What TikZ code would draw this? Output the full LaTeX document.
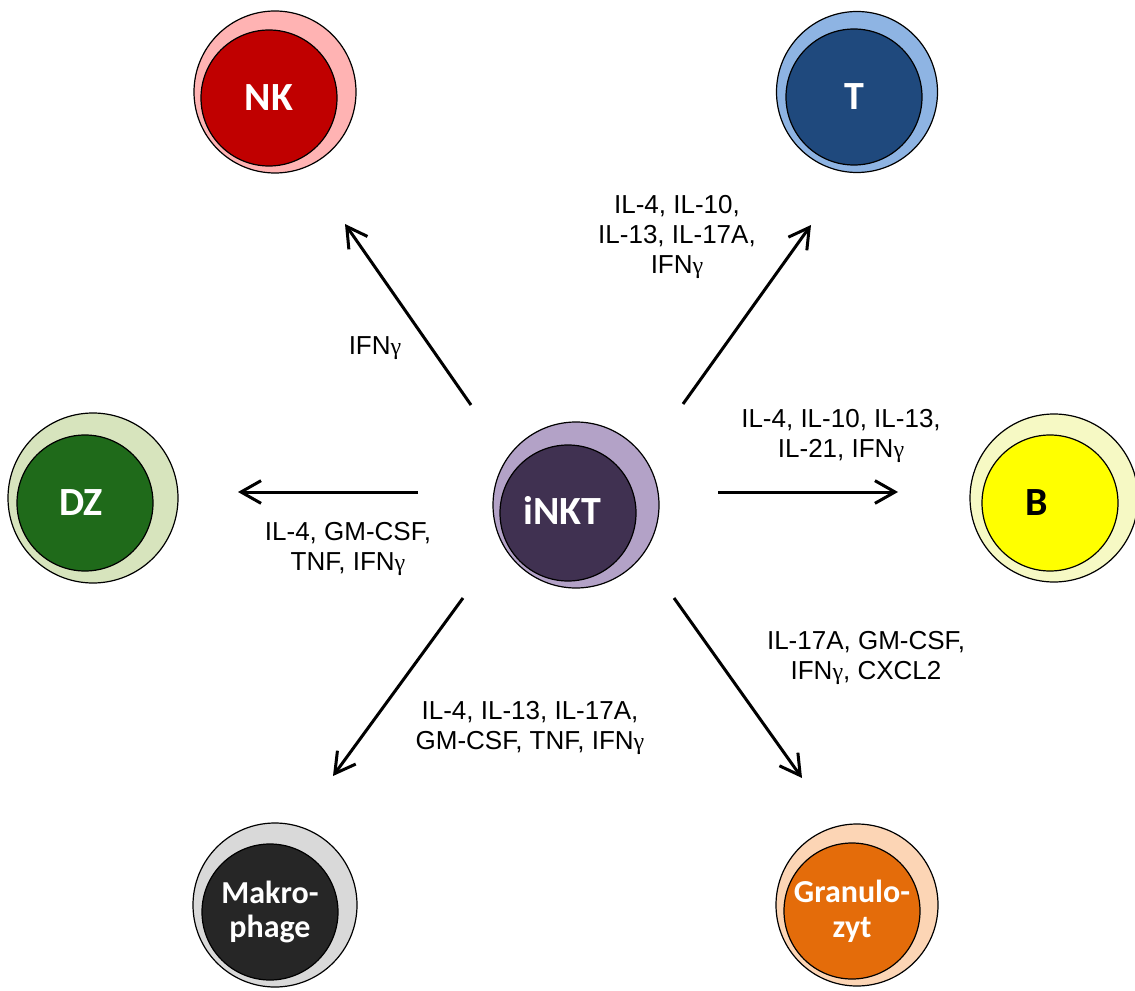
\documentclass[tikz,border=0pt]{standalone}
\usepackage{fontspec}
\setmainfont{Liberation Sans}
\newfontfamily\cellfont{Carlito}
\newfontfamily\gfont{Liberation Serif}
\newcommand\gam{{\gfont\fontsize{18}{20}\selectfont γ}}
\usetikzlibrary{arrows.meta}
\definecolor{nkO}{HTML}{FFB3B3}\definecolor{nkI}{HTML}{C00000}
\definecolor{tO}{HTML}{8EB4E3}\definecolor{tI}{HTML}{1F497D}
\definecolor{dzO}{HTML}{D7E4BD}\definecolor{dzI}{HTML}{1F6A1A}
\definecolor{bO}{HTML}{F6F9C4}\definecolor{bI}{HTML}{FFFF00}
\definecolor{iO}{HTML}{B3A2C7}\definecolor{iI}{HTML}{403151}
\definecolor{mO}{HTML}{D9D9D9}\definecolor{mI}{HTML}{262626}
\definecolor{gO}{HTML}{FCD5B5}\definecolor{gI}{HTML}{E46C0A}
\tikzset{
  outercell/.style={circle,draw=black,line width=0.9pt,minimum size=#1,inner sep=0pt},
  innercell/.style={circle,draw=black,line width=0.9pt,minimum size=136*0.75pt,inner sep=0pt,
     font=\cellfont\bfseries\fontsize{30}{32}\selectfont,text=white,align=center},
  smallcell/.style={font=\cellfont\bfseries\fontsize{24}{26}\selectfont},
  cyto/.style={font=\fontsize{19.5}{22.5}\selectfont,align=center},
  flow/.style={line width=2.25pt,-{Straight Barb[length=15pt,width=17pt,line width=2.25pt]}}
}
\begin{document}
\begin{tikzpicture}[x=0.75pt,y=-0.75pt]
\useasboundingbox (0,0) rectangle (1135,991);
% cells
\node[outercell=162*0.75pt,fill=nkO] (nkout) at (275,92) {};
\node[innercell,fill=nkI] (nk) at (269,98) {NK};
\node[outercell=161*0.75pt,fill=tO] (tout) at (857,92) {};
\node[innercell,fill=tI] (t) at (854,97) {T};
\node[outercell=170*0.75pt,fill=dzO] (dzout) at (93,498) {};
\node[innercell,fill=dzI] (dz) at (85,503) {DZ\hspace*{6pt}};
\node[outercell=168*0.75pt,fill=bO] (bout) at (1054,498) {};
\node[innercell,fill=bI,text=black] (b) at (1050,503) {B\hspace*{20pt}};
\node[outercell=166*0.75pt,fill=iO] (inktout) at (576,505) {};
\node[innercell,fill=iI] (inkt) at (568,513) {\raisebox{4pt}{iNKT}\hspace*{8pt}};
\node[outercell=164*0.75pt,fill=mO] (mout) at (275,905) {};
\node[innercell,smallcell,fill=mI] (m) at (270,912) {Makro-\\phage};
\node[outercell=162*0.75pt,fill=gO] (gout) at (857,905) {};
\node[innercell,smallcell,fill=gI] (g) at (852,911) {Granulo-\\zyt};
% arrow ends
\coordinate (nkS) at (471,405); \coordinate (nkE) at (345,224);
\coordinate (tS) at (683,404);  \coordinate (tE) at (811,225);
\coordinate (dzS) at (418,492); \coordinate (dzE) at (238,492);
\coordinate (bS) at (718,492);  \coordinate (bE) at (898,492);
\coordinate (mS) at (463,598);  \coordinate (mE) at (333,776);
\coordinate (gS) at (674,598);  \coordinate (gE) at (802,778);
\draw[flow] (nkS) -- (nkE);
\draw[flow] (tS) -- (tE);
\draw[flow] (dzS) -- (dzE);
\draw[flow] (bS) -- (bE);
\draw[flow] (mS) -- (mE);
\draw[flow] (gS) -- (gE);
% labels
\node[cyto] (lnk) at (375,348) {IFN\gam};
\node[cyto] (lt) at (677,237) {IL-4, IL-10,\\IL-13, IL-17A,\\IFN\gam};
\node[cyto] (lb) at (841,436) {IL-4, IL-10, IL-13,\\IL-21, IFN\gam};
\node[cyto] (ldz) at (348,549) {IL-4, GM-CSF,\\TNF, IFN\gam};
\node[cyto] (lm) at (530,728) {IL-4, IL-13, IL-17A,\\GM-CSF, TNF, IFN\gam};
\node[cyto] (lg) at (866,658) {IL-17A, GM-CSF,\\IFN\gam, CXCL2};
\end{tikzpicture}
\end{document}
